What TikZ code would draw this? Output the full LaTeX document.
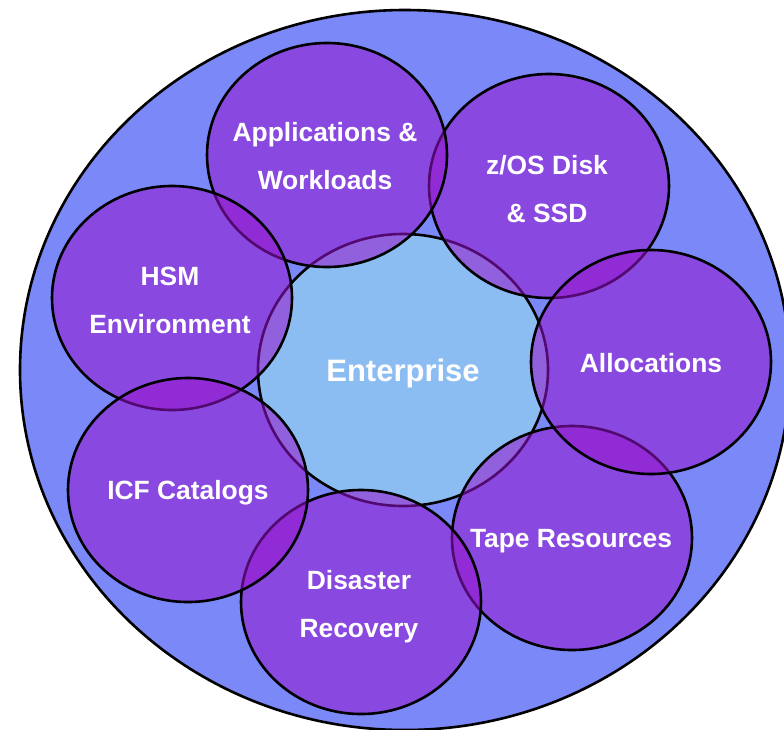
\documentclass[tikz,border=0pt]{standalone}
\usepackage{fontspec}
\setmainfont{Liberation Sans}
\usetikzlibrary{shapes.geometric}
\definecolor{bgblue}{RGB}{123,136,247}
\definecolor{entblue}{RGB}{140,189,242}
\definecolor{purp}{RGB}{150,20,205}
\tikzset{
  lbl/.style={text=white, font=\bfseries\fontsize{26.4}{48}\selectfont, align=center, inner sep=0pt},
  pcirc/.style={ellipse, draw=black, line width=2.6pt, fill=purp, fill opacity=0.55, draw opacity=1,
    minimum width=240pt, minimum height=224pt, inner sep=0pt},
  bigcirc/.style={ellipse, draw=black, line width=2.6pt, inner sep=0pt},
}
\begin{document}
\begin{tikzpicture}[x=1pt,y=-1pt]
\clip (0,0) rectangle (784,729);
\node[bigcirc, fill=bgblue, minimum width=770pt, minimum height=720pt] (outer) at (405,370) {};
\node[bigcirc, fill=entblue, minimum width=290pt, minimum height=272pt] (ent) at (403,370) {};
\node[pcirc] (zos) at (549,186) {};
\node[pcirc] (tape) at (572,538) {};
\node[pcirc] (app) at (327,155) {};
\node[pcirc] (alloc) at (651,362) {};
\node[pcirc] (dis) at (361,602) {};
\node[pcirc] (hsm) at (172,298) {};
\node[pcirc] (icf) at (188,490) {};
\node[lbl, font=\bfseries\fontsize{31}{36}\selectfont] (entT) at ([yshift=-3pt]ent.center) {Enterprise};
\node[lbl] (zosT) at ([xshift=-2pt,yshift=-3pt]zos.center) {z/OS Disk\\\& SSD};
\node[lbl] (tapeT) at ([xshift=-1pt,yshift=-3pt]tape.center) {Tape Resources};
\node[lbl] (appT) at ([xshift=-2pt,yshift=-1pt]app.center) {Applications \&\\Workloads};
\node[lbl] (allocT) at ([yshift=-1pt]alloc.center) {Allocations};
\node[lbl] (disT) at ([xshift=-2pt,yshift=-5pt]dis.center) {Disaster\\Recovery};
\node[lbl] (hsmT) at ([xshift=-2pt,yshift=-2pt]hsm.center) {HSM\\Environment};
\node[lbl] (icfT) at ([yshift=-3pt]icf.center) {ICF Catalogs};
\end{tikzpicture}
\end{document}
